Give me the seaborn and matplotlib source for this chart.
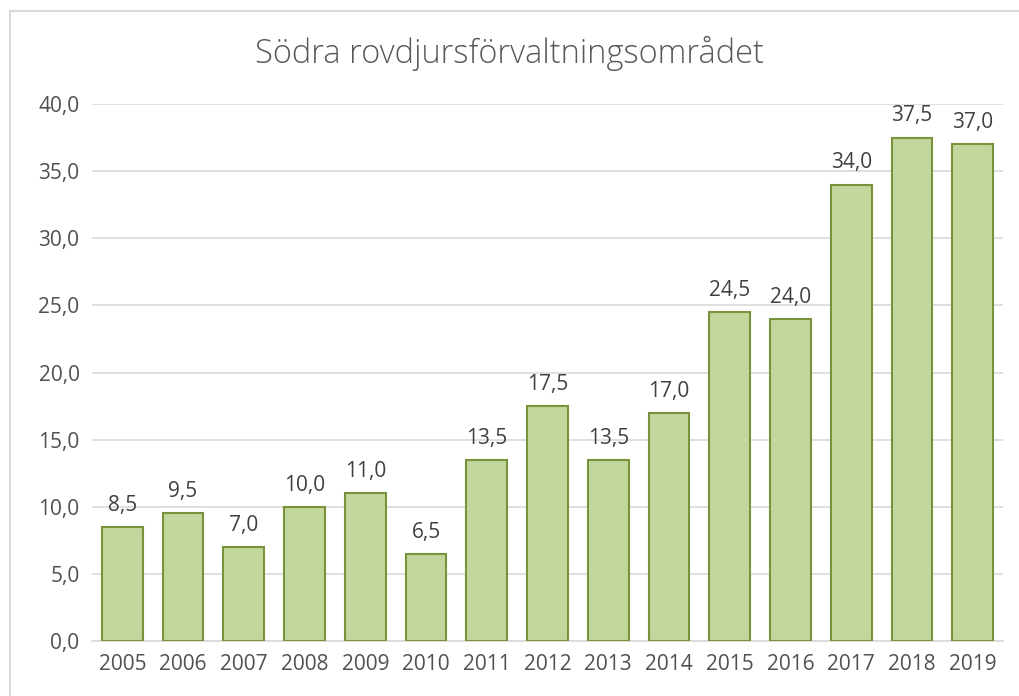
import pandas as pd
import seaborn as sns
import matplotlib.pyplot as plt
from matplotlib.lines import Line2D

years = ["2005", "2006", "2007", "2008", "2009", "2010", "2011", "2012",
         "2013", "2014", "2015", "2016", "2017", "2018", "2019"]
values = [8.5, 9.5, 7.0, 10.0, 11.0, 6.5, 13.5, 17.5,
          13.5, 17.0, 24.5, 24.0, 34.0, 37.5, 37.0]
title = "Södra rovdjursförvaltningsområdet"

df = pd.DataFrame({"year": years, "value": values})

sns.set_style("white")
plt.rcParams["font.family"] = ["Open Sans", "DejaVu Sans"]
text_color = "#505050"
grid_color = "#D9D9D9"

fig = plt.figure(figsize=(10.19, 6.96), dpi=100)
ax = fig.add_axes([92 / 1019, 1 - 641 / 696, (1003 - 92) / 1019, (641 - 104) / 696])

sns.barplot(data=df, x="year", y="value", color="#C3D69B", saturation=1,
            edgecolor="#77933C", linewidth=1.5, width=0.67, ax=ax, zorder=3)

ax.set_ylim(0, 40)
ax.set_yticks(range(0, 41, 5))
ax.set_yticklabels([f"{v:.1f}".replace(".", ",") for v in range(0, 41, 5)])
ax.yaxis.grid(True, color=grid_color, linewidth=1.2, zorder=0)
ax.set_axisbelow(True)
for s in ["top", "right", "left"]:
    ax.spines[s].set_visible(False)
ax.spines["bottom"].set_color(grid_color)
ax.spines["bottom"].set_linewidth(1.2)
ax.tick_params(axis="both", length=0, labelsize=15, colors=text_color, pad=9)
ax.set_xlabel("")
ax.set_ylabel("")

ax.bar_label(ax.containers[0], labels=[f"{v:.1f}".replace(".", ",") for v in values],
             padding=8, fontsize=15, color="#404040")

fig.text(0.5, 1 - 53 / 696, title, ha="center", va="center", fontsize=23.5,
         fontweight="light", color="#595959")

# chart frame
fig.add_artist(Line2D([10 / 1019, 1], [1 - 11 / 696] * 2, color=grid_color, lw=1.5))
fig.add_artist(Line2D([10 / 1019] * 2, [0, 1 - 11 / 696], color=grid_color, lw=1.5))

fig.savefig("out.png", dpi=100)
